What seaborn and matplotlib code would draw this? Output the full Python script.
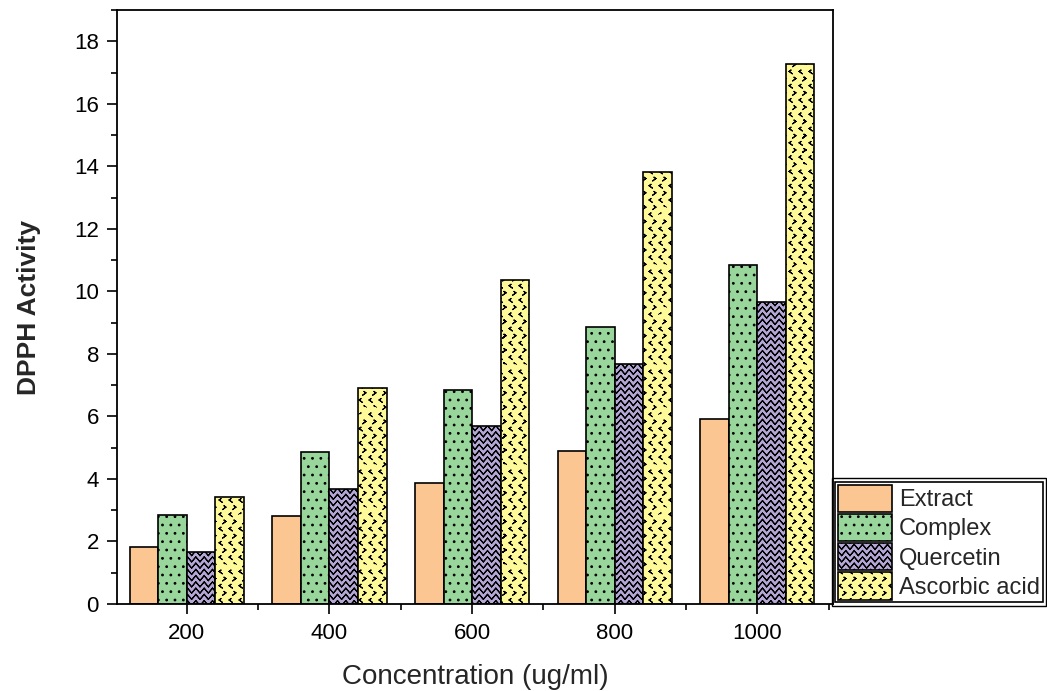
import matplotlib
matplotlib.use("Agg")
import matplotlib.pyplot as plt
import matplotlib.hatch as mhatch
from matplotlib.path import Path
import seaborn as sns
import pandas as pd
import numpy as np
from matplotlib.ticker import MultipleLocator, FixedLocator
from matplotlib.patches import Rectangle

# ---- data ----
concentrations = ["200", "400", "600", "800", "1000"]
series = ["Extract", "Complex", "Quercetin", "Ascorbic acid"]
extract = [1.83, 2.83, 3.88, 4.90, 5.93]
complex_ = [2.85, 4.85, 6.85, 8.86, 10.83]
quercetin = [1.67, 3.69, 5.68, 7.69, 9.65]
ascorbic = [3.43, 6.90, 10.35, 13.82, 17.27]

colors = ["#FCC693", "#99D69B", "#B4A7D6", "#FFFA99"]
hatches = ["", "..", "O", "*"]


# ---- custom hatch patterns (zigzag weave for 'O', chevrons for '*') ----
class ZigZag(mhatch.HatchPatternBase):
    def __init__(self, hatch, density):
        self.n = hatch.count('O')
        self.ny, self.nx = 16, 12
        self.per_row = 2 * (2 * self.nx + 1)
        self.num_vertices = self.ny * self.per_row if self.n else 0

    def set_vertices_and_codes(self, vertices, codes):
        xs = np.linspace(0, 1, 2 * self.nx + 1)
        amp = 1.0 / self.ny * 0.8
        ys = np.where(np.arange(2 * self.nx + 1) % 2 == 0, -amp / 2, amp / 2)
        c = 0
        for r in range(self.ny):
            y0 = (r + 0.5) / self.ny
            pts = np.column_stack([xs, ys + y0])
            pts = np.concatenate([pts, pts[::-1]])
            vertices[c:c + self.per_row] = pts
            codes[c:c + self.per_row] = Path.LINETO
            codes[c] = Path.MOVETO
            c += self.per_row


class Chevrons(mhatch.HatchPatternBase):
    def __init__(self, hatch, density):
        self.n = hatch.count('*')
        self.ny, self.nx = 14, 10
        self.rows = self.ny + 1
        self.cols = self.nx + 1
        self.num_vertices = self.rows * self.cols * 5 if self.n else 0

    def set_vertices_and_codes(self, vertices, codes):
        w, h = 0.018, 0.026
        left = np.array([[w, h], [-w, 0], [w, -h], [-w, 0], [w, h]]) / 2
        right = left * [-1, 1]
        c = 0
        for r in range(self.rows):
            shp = left if r % 2 == 0 else right
            shift = 0 if r % 2 == 0 else 0.5 / self.nx
            for k in range(self.cols):
                pos = [(k / self.nx + shift) % (1 + 1e-9), r / self.ny]
                vertices[c:c + 5] = shp + pos
                codes[c:c + 5] = Path.LINETO
                codes[c] = Path.MOVETO
                c += 5


mhatch._hatch_types = [t for t in mhatch._hatch_types
                       if t.__name__ not in ("LargeCircles", "Stars")]
mhatch._hatch_types += [ZigZag, Chevrons]

rows = []
for name, vals in zip(series, [extract, complex_, quercetin, ascorbic]):
    for c, v in zip(concentrations, vals):
        rows.append({"Concentration": c, "Value": v, "Series": name})
df = pd.DataFrame(rows)

sns.set_style("white")
plt.rcParams["font.family"] = ["Liberation Sans", "DejaVu Sans"]
plt.rcParams["hatch.linewidth"] = 0.8

fig = plt.figure(figsize=(10.47, 6.91), dpi=100)
ax = fig.add_axes([0.1117, 0.1259, 0.6839, 0.8596])

sns.barplot(data=df, x="Concentration", y="Value", hue="Series",
            order=concentrations, hue_order=series, palette=colors,
            edgecolor="black", linewidth=1.2, width=0.8, saturation=1,
            ax=ax, legend=False, errorbar=None)

for cont, h in zip(ax.containers, hatches):
    for p in cont.patches:
        p.set_hatch(h)

ax.set_xlim(-0.49, 4.53)
ax.set_ylim(0, 19)
ax.yaxis.set_major_locator(MultipleLocator(2))
ax.yaxis.set_minor_locator(MultipleLocator(1))
ax.xaxis.set_minor_locator(FixedLocator(np.arange(-0.5, 4.6, 1.0)))

ax.tick_params(axis="both", which="major", direction="out", length=7,
               width=1.2, labelsize=16, color="black", labelcolor="black")
ax.tick_params(axis="y", which="major", pad=6)
ax.tick_params(axis="x", which="major", pad=7)
ax.tick_params(axis="both", which="minor", direction="out", length=4,
               width=1.2, color="black")
ax.tick_params(axis="x", which="both", bottom=True, top=False)
ax.tick_params(axis="y", which="both", left=True, right=False)

for s in ax.spines.values():
    s.set_visible(True)
    s.set_color("black")
    s.set_linewidth(1.3)

ax.set_xlabel("Concentration (ug/ml)", fontsize=20, labelpad=14)
ax.set_ylabel("DPPH Activity", fontsize=19, fontweight="bold", labelpad=24)

leg = fig.legend(ax.containers, series, loc="upper left",
                 bbox_to_anchor=(835 / 1047, (691 - 482) / 691),
                 fontsize=17, frameon=True, fancybox=False, framealpha=1,
                 edgecolor="black", handlelength=2.29, handleheight=1.4,
                 handletextpad=0.3, labelspacing=0.08, borderpad=0.12,
                 borderaxespad=0.0)
leg.get_frame().set_linewidth(1.2)

# double border look
fig.patches.append(Rectangle((832 / 1047, (691 - 606) / 691), 214 / 1047, 128 / 691,
                             transform=fig.transFigure, fill=False,
                             edgecolor="black", linewidth=1.0))

fig.savefig("out.png", dpi=100)
